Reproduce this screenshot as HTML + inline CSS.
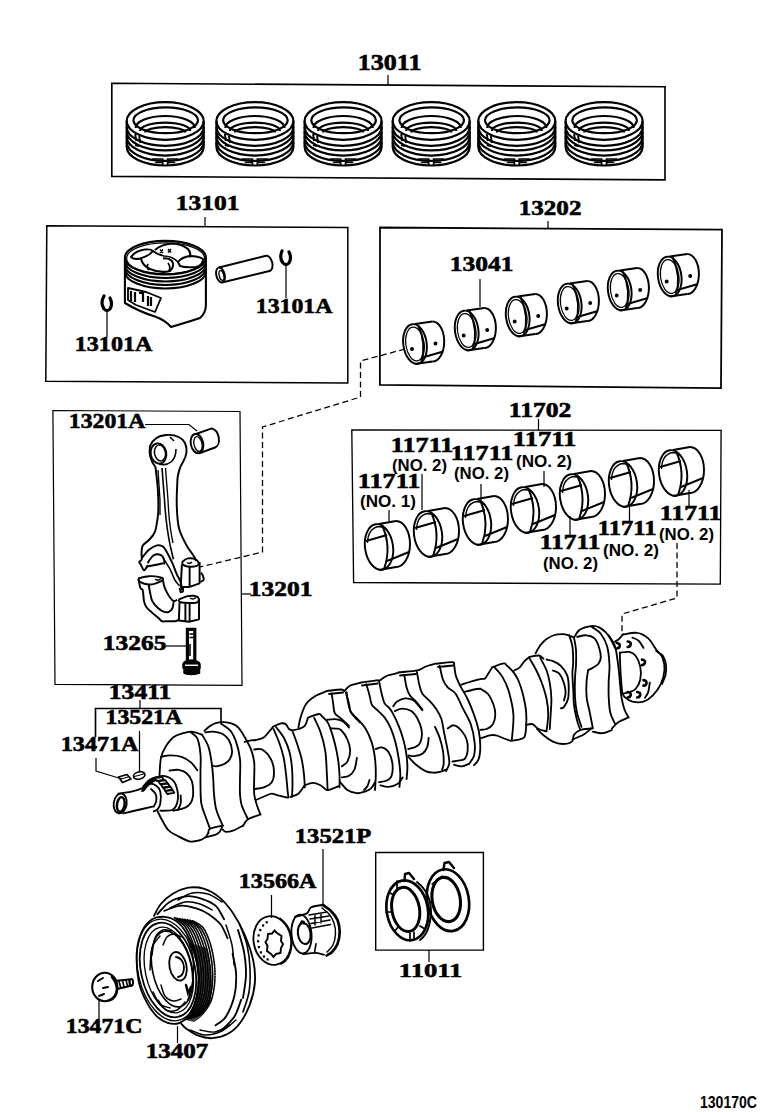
<!DOCTYPE html>
<html><head><meta charset="utf-8"><style>
html,body{margin:0;padding:0;background:#fff;}
svg{display:block;}
.L{font-family:"Liberation Serif",serif;font-weight:bold;fill:#000;stroke:#000;stroke-width:0.6px;}
.N{font-family:"Liberation Sans",sans-serif;font-weight:bold;font-size:16.5px;fill:#000;}
.C{font-family:"Liberation Sans",sans-serif;font-weight:bold;font-size:16px;fill:#000;}
</style></head><body>
<svg width="760" height="1112" viewBox="0 0 760 1112">
<rect width="760" height="1112" fill="#fff"/>
<g fill="none" stroke="#000" stroke-width="1.65" stroke-linejoin="miter">
<path d="M111.8,83.3 L665.0,86.8 L665.0,179.8 L111.8,176.4 Z" stroke-width="1.65"/>
<path d="M46.8,225.8 L347.8,227.4 L347.8,382.9 L45.8,381.3 Z" stroke-width="1.52"/>
<path d="M380.0,227.5 L722.0,229.7 L721.0,388.2 L379.9,384.9 Z" stroke-width="1.77"/>
<path d="M52.9,410.5 L240.0,411.5 L242.0,685.4 L55.0,684.4 Z" stroke-width="1.22"/>
<path d="M351.8,429.9 L721.1,430.4 L720.3,584.2 L353.6,582.5 Z" stroke-width="1.34"/>
<path d="M375.7,852.5 L483.4,852.5 L483.4,950.1 L375.7,950.1 Z" stroke-width="1.40"/>
<path d="M95.5,737 V708.5 H221 V722"/>
</g>
<g fill="none" stroke="#000" stroke-width="1.22">
<path d="M388,75 V85"/>
<path d="M205,217 V226.6"/>
<path d="M548,221 V228.6"/>
<path d="M480,279 V307"/>
<path d="M286,264 V298"/>
<path d="M107,309 V337"/>
<path d="M145,424.5 H189 L197,431"/>
<path d="M241.5,594 H251"/>
<path d="M166,646 H187"/>
<path d="M538.5,419 V430"/>
<path d="M389,510 V521"/>
<path d="M422,474 V510"/>
<path d="M481,484 V500"/>
<path d="M544,471 V487"/>
<path d="M570,516 V535"/>
<path d="M629.5,506 V521"/>
<path d="M689,490 V506"/>
<path d="M140,700 V708"/>
<path d="M139.5,731 V771"/>
<path d="M96,758 V771 L122,779"/>
<path d="M323,849 V905"/>
<path d="M271.5,895 V918"/>
<path d="M429,950 V962"/>
<path d="M99,1000 V1019"/>
<path d="M177.5,1026 V1043"/>
</g>
<g fill="none" stroke="#000" stroke-width="1.28" stroke-dasharray="6,3.5">
<path d="M405,349 L360.5,361 V397 L262.5,427 V552 L200,567"/>
<path d="M677,543 V598 L622,614 V636"/>
</g>
<g fill="none" stroke="#000" stroke-width="2.20">
<ellipse cx="165.2" cy="121.0" rx="38.5" ry="18.8" />
<ellipse cx="165.7" cy="120.3" rx="32.3" ry="12.9" />
<path d="M135.6,128 A29.6,12 0 0 1 194.8,128"/>
<path d="M140.2,131 A25,8.4 0 0 1 190.2,131"/>
<path d="M145.2,132.5 A20,5.3 0 0 1 185.2,132.5"/>
<path d="M126.7,121.0 V147.0"/>
<path d="M203.7,121.0 V147.0"/>
<path d="M126.7,127.0 A38.5,18.8 0 0 0 203.7,127.0"/>
<path d="M126.7,131.6 A38.5,18.8 0 0 0 203.7,131.6"/>
<path d="M126.7,136.8 A38.5,18.8 0 0 0 203.7,136.8"/>
<path d="M126.7,142.1 A38.5,18.8 0 0 0 203.7,142.1"/>
<path d="M126.7,146.7 A38.5,18.8 0 0 0 203.7,146.7"/>
<path d="M152.2,159 H162.7 V166 M178.2,159 H167.7 V166 M155.2,162.5 H162.7 M175.2,162.5 H167.7" stroke-width="1.71"/>
<path d="M135.2,134 l1,7 M139.2,136 l1,7 M135.2,145 l4,1" stroke-width="1.95"/>
<ellipse cx="254.9" cy="121.0" rx="38.5" ry="18.8" />
<ellipse cx="255.4" cy="120.3" rx="32.3" ry="12.9" />
<path d="M225.3,128 A29.6,12 0 0 1 284.5,128"/>
<path d="M229.9,131 A25,8.4 0 0 1 279.9,131"/>
<path d="M234.9,132.5 A20,5.3 0 0 1 274.9,132.5"/>
<path d="M216.4,121.0 V147.0"/>
<path d="M293.4,121.0 V147.0"/>
<path d="M216.4,127.0 A38.5,18.8 0 0 0 293.4,127.0"/>
<path d="M216.4,131.6 A38.5,18.8 0 0 0 293.4,131.6"/>
<path d="M216.4,136.8 A38.5,18.8 0 0 0 293.4,136.8"/>
<path d="M216.4,142.1 A38.5,18.8 0 0 0 293.4,142.1"/>
<path d="M216.4,146.7 A38.5,18.8 0 0 0 293.4,146.7"/>
<path d="M241.9,159 H252.4 V166 M267.9,159 H257.4 V166 M244.9,162.5 H252.4 M264.9,162.5 H257.4" stroke-width="1.71"/>
<path d="M224.9,134 l1,7 M228.9,136 l1,7 M224.9,145 l4,1" stroke-width="1.95"/>
<ellipse cx="343.1" cy="121.0" rx="38.5" ry="18.8" />
<ellipse cx="343.6" cy="120.3" rx="32.3" ry="12.9" />
<path d="M313.5,128 A29.6,12 0 0 1 372.7,128"/>
<path d="M318.1,131 A25,8.4 0 0 1 368.1,131"/>
<path d="M323.1,132.5 A20,5.3 0 0 1 363.1,132.5"/>
<path d="M304.6,121.0 V147.0"/>
<path d="M381.6,121.0 V147.0"/>
<path d="M304.6,127.0 A38.5,18.8 0 0 0 381.6,127.0"/>
<path d="M304.6,131.6 A38.5,18.8 0 0 0 381.6,131.6"/>
<path d="M304.6,136.8 A38.5,18.8 0 0 0 381.6,136.8"/>
<path d="M304.6,142.1 A38.5,18.8 0 0 0 381.6,142.1"/>
<path d="M304.6,146.7 A38.5,18.8 0 0 0 381.6,146.7"/>
<path d="M330.1,159 H340.6 V166 M356.1,159 H345.6 V166 M333.1,162.5 H340.6 M353.1,162.5 H345.6" stroke-width="1.71"/>
<path d="M313.1,134 l1,7 M317.1,136 l1,7 M313.1,145 l4,1" stroke-width="1.95"/>
<ellipse cx="431.2" cy="121.0" rx="38.5" ry="18.8" />
<ellipse cx="431.7" cy="120.3" rx="32.3" ry="12.9" />
<path d="M401.6,128 A29.6,12 0 0 1 460.8,128"/>
<path d="M406.2,131 A25,8.4 0 0 1 456.2,131"/>
<path d="M411.2,132.5 A20,5.3 0 0 1 451.2,132.5"/>
<path d="M392.7,121.0 V147.0"/>
<path d="M469.7,121.0 V147.0"/>
<path d="M392.7,127.0 A38.5,18.8 0 0 0 469.7,127.0"/>
<path d="M392.7,131.6 A38.5,18.8 0 0 0 469.7,131.6"/>
<path d="M392.7,136.8 A38.5,18.8 0 0 0 469.7,136.8"/>
<path d="M392.7,142.1 A38.5,18.8 0 0 0 469.7,142.1"/>
<path d="M392.7,146.7 A38.5,18.8 0 0 0 469.7,146.7"/>
<path d="M418.2,159 H428.7 V166 M444.2,159 H433.7 V166 M421.2,162.5 H428.7 M441.2,162.5 H433.7" stroke-width="1.71"/>
<path d="M401.2,134 l1,7 M405.2,136 l1,7 M401.2,145 l4,1" stroke-width="1.95"/>
<ellipse cx="516.8" cy="121.0" rx="38.5" ry="18.8" />
<ellipse cx="517.3" cy="120.3" rx="32.3" ry="12.9" />
<path d="M487.2,128 A29.6,12 0 0 1 546.4,128"/>
<path d="M491.8,131 A25,8.4 0 0 1 541.8,131"/>
<path d="M496.8,132.5 A20,5.3 0 0 1 536.8,132.5"/>
<path d="M478.3,121.0 V147.0"/>
<path d="M555.3,121.0 V147.0"/>
<path d="M478.3,127.0 A38.5,18.8 0 0 0 555.3,127.0"/>
<path d="M478.3,131.6 A38.5,18.8 0 0 0 555.3,131.6"/>
<path d="M478.3,136.8 A38.5,18.8 0 0 0 555.3,136.8"/>
<path d="M478.3,142.1 A38.5,18.8 0 0 0 555.3,142.1"/>
<path d="M478.3,146.7 A38.5,18.8 0 0 0 555.3,146.7"/>
<path d="M503.8,159 H514.3 V166 M529.8,159 H519.3 V166 M506.8,162.5 H514.3 M526.8,162.5 H519.3" stroke-width="1.71"/>
<path d="M486.8,134 l1,7 M490.8,136 l1,7 M486.8,145 l4,1" stroke-width="1.95"/>
<ellipse cx="604.1" cy="121.0" rx="38.5" ry="18.8" />
<ellipse cx="604.6" cy="120.3" rx="32.3" ry="12.9" />
<path d="M574.5,128 A29.6,12 0 0 1 633.7,128"/>
<path d="M579.1,131 A25,8.4 0 0 1 629.1,131"/>
<path d="M584.1,132.5 A20,5.3 0 0 1 624.1,132.5"/>
<path d="M565.6,121.0 V147.0"/>
<path d="M642.6,121.0 V147.0"/>
<path d="M565.6,127.0 A38.5,18.8 0 0 0 642.6,127.0"/>
<path d="M565.6,131.6 A38.5,18.8 0 0 0 642.6,131.6"/>
<path d="M565.6,136.8 A38.5,18.8 0 0 0 642.6,136.8"/>
<path d="M565.6,142.1 A38.5,18.8 0 0 0 642.6,142.1"/>
<path d="M565.6,146.7 A38.5,18.8 0 0 0 642.6,146.7"/>
<path d="M591.1,159 H601.6 V166 M617.1,159 H606.6 V166 M594.1,162.5 H601.6 M614.1,162.5 H606.6" stroke-width="1.71"/>
<path d="M574.1,134 l1,7 M578.1,136 l1,7 M574.1,145 l4,1" stroke-width="1.95"/>
</g>
<g fill="none" stroke="#000" stroke-width="1.95">
<ellipse cx="415.0" cy="344.0" rx="11.7" ry="20.0" transform="rotate(-8 415 344)"/><ellipse cx="415.0" cy="344.0" rx="9.2" ry="17.0" stroke-width="1.22" transform="rotate(-8 415 344)"/><path d="M432.5,321.5 A11.7,20 0 0 1 432.5,361.5"/><path d="M415.0,324.0 L432.5,321.5 M415.0,364.0 L432.5,361.5"/><path d="M418.0,325.0 Q427.0,344.0 421.0,363.0"/><path d="M421.0,358.0 L443.2,351.5"/><circle cx="412.0" cy="349.0" r="1.0" fill="#000"/><circle cx="435.5" cy="343.5" r="1.0" fill="#000"/>
<ellipse cx="466.7" cy="330.5" rx="11.7" ry="20.0" transform="rotate(-8 466.7 330.5)"/><ellipse cx="466.7" cy="330.5" rx="9.2" ry="17.0" stroke-width="1.22" transform="rotate(-8 466.7 330.5)"/><path d="M484.2,308.0 A11.7,20 0 0 1 484.2,348.0"/><path d="M466.7,310.5 L484.2,308.0 M466.7,350.5 L484.2,348.0"/><path d="M469.7,311.5 Q478.7,330.5 472.7,349.5"/><path d="M472.7,344.5 L494.9,338.0"/><circle cx="463.7" cy="335.5" r="1.0" fill="#000"/><circle cx="487.2" cy="330.0" r="1.0" fill="#000"/>
<ellipse cx="517.7" cy="316.5" rx="11.7" ry="20.0" transform="rotate(-8 517.7 316.5)"/><ellipse cx="517.7" cy="316.5" rx="9.2" ry="17.0" stroke-width="1.22" transform="rotate(-8 517.7 316.5)"/><path d="M535.2,294.0 A11.7,20 0 0 1 535.2,334.0"/><path d="M517.7,296.5 L535.2,294.0 M517.7,336.5 L535.2,334.0"/><path d="M520.7,297.5 Q529.7,316.5 523.7,335.5"/><path d="M523.7,330.5 L545.9,324.0"/><circle cx="514.7" cy="321.5" r="1.0" fill="#000"/><circle cx="538.2" cy="316.0" r="1.0" fill="#000"/>
<ellipse cx="569.7" cy="303.5" rx="11.7" ry="20.0" transform="rotate(-8 569.7 303.5)"/><ellipse cx="569.7" cy="303.5" rx="9.2" ry="17.0" stroke-width="1.22" transform="rotate(-8 569.7 303.5)"/><path d="M587.2,281.0 A11.7,20 0 0 1 587.2,321.0"/><path d="M569.7,283.5 L587.2,281.0 M569.7,323.5 L587.2,321.0"/><path d="M572.7,284.5 Q581.7,303.5 575.7,322.5"/><path d="M575.7,317.5 L597.9,311.0"/><circle cx="566.7" cy="308.5" r="1.0" fill="#000"/><circle cx="590.2" cy="303.0" r="1.0" fill="#000"/>
<ellipse cx="619.7" cy="290.5" rx="11.7" ry="20.0" transform="rotate(-8 619.7 290.5)"/><ellipse cx="619.7" cy="290.5" rx="9.2" ry="17.0" stroke-width="1.22" transform="rotate(-8 619.7 290.5)"/><path d="M637.2,268.0 A11.7,20 0 0 1 637.2,308.0"/><path d="M619.7,270.5 L637.2,268.0 M619.7,310.5 L637.2,308.0"/><path d="M622.7,271.5 Q631.7,290.5 625.7,309.5"/><path d="M625.7,304.5 L647.9,298.0"/><circle cx="616.7" cy="295.5" r="1.0" fill="#000"/><circle cx="640.2" cy="290.0" r="1.0" fill="#000"/>
<ellipse cx="669.7" cy="276.5" rx="11.7" ry="20.0" transform="rotate(-8 669.7 276.5)"/><ellipse cx="669.7" cy="276.5" rx="9.2" ry="17.0" stroke-width="1.22" transform="rotate(-8 669.7 276.5)"/><path d="M687.2,254.0 A11.7,20 0 0 1 687.2,294.0"/><path d="M669.7,256.5 L687.2,254.0 M669.7,296.5 L687.2,294.0"/><path d="M672.7,257.5 Q681.7,276.5 675.7,295.5"/><path d="M675.7,290.5 L697.9,284.0"/><circle cx="666.7" cy="281.5" r="1.0" fill="#000"/><circle cx="690.2" cy="276.0" r="1.0" fill="#000"/>
</g>
<g fill="none" stroke="#000" stroke-width="1.95">
<ellipse cx="379.0" cy="547.0" rx="14.0" ry="23.0" transform="rotate(-8 379 547)"/><path d="M367.5,543.0 Q368.0,528.0 379.0,526.5 Q385.0,527.0 387.0,530.0" stroke-width="1.34"/><path d="M396.0,521.0 A14,23 0 0 1 396.0,567.0"/><path d="M379.0,524.0 L396.0,521.0 M379.0,570.0 L396.0,567.0"/><path d="M382.0,525.0 Q392.0,547.0 384.0,569.0"/><path d="M366.0,541.0 L387.0,535.0"/><path d="M387.0,561.0 L409.0,552.0"/>
<ellipse cx="428.0" cy="534.0" rx="14.0" ry="23.0" transform="rotate(-8 428 534)"/><path d="M416.5,530.0 Q417.0,515.0 428.0,513.5 Q434.0,514.0 436.0,517.0" stroke-width="1.34"/><path d="M445.0,508.0 A14,23 0 0 1 445.0,554.0"/><path d="M428.0,511.0 L445.0,508.0 M428.0,557.0 L445.0,554.0"/><path d="M431.0,512.0 Q441.0,534.0 433.0,556.0"/><path d="M415.0,528.0 L436.0,522.0"/><path d="M436.0,548.0 L458.0,539.0"/>
<ellipse cx="477.0" cy="522.0" rx="14.0" ry="23.0" transform="rotate(-8 477 522)"/><path d="M465.5,518.0 Q466.0,503.0 477.0,501.5 Q483.0,502.0 485.0,505.0" stroke-width="1.34"/><path d="M494.0,496.0 A14,23 0 0 1 494.0,542.0"/><path d="M477.0,499.0 L494.0,496.0 M477.0,545.0 L494.0,542.0"/><path d="M480.0,500.0 Q490.0,522.0 482.0,544.0"/><path d="M464.0,516.0 L485.0,510.0"/><path d="M485.0,536.0 L507.0,527.0"/>
<ellipse cx="525.0" cy="510.0" rx="14.0" ry="23.0" transform="rotate(-8 525 510)"/><path d="M513.5,506.0 Q514.0,491.0 525.0,489.5 Q531.0,490.0 533.0,493.0" stroke-width="1.34"/><path d="M542.0,484.0 A14,23 0 0 1 542.0,530.0"/><path d="M525.0,487.0 L542.0,484.0 M525.0,533.0 L542.0,530.0"/><path d="M528.0,488.0 Q538.0,510.0 530.0,532.0"/><path d="M512.0,504.0 L533.0,498.0"/><path d="M533.0,524.0 L555.0,515.0"/>
<ellipse cx="574.0" cy="497.0" rx="14.0" ry="23.0" transform="rotate(-8 574 497)"/><path d="M562.5,493.0 Q563.0,478.0 574.0,476.5 Q580.0,477.0 582.0,480.0" stroke-width="1.34"/><path d="M591.0,471.0 A14,23 0 0 1 591.0,517.0"/><path d="M574.0,474.0 L591.0,471.0 M574.0,520.0 L591.0,517.0"/><path d="M577.0,475.0 Q587.0,497.0 579.0,519.0"/><path d="M561.0,491.0 L582.0,485.0"/><path d="M582.0,511.0 L604.0,502.0"/>
<ellipse cx="623.0" cy="484.0" rx="14.0" ry="23.0" transform="rotate(-8 623 484)"/><path d="M611.5,480.0 Q612.0,465.0 623.0,463.5 Q629.0,464.0 631.0,467.0" stroke-width="1.34"/><path d="M640.0,458.0 A14,23 0 0 1 640.0,504.0"/><path d="M623.0,461.0 L640.0,458.0 M623.0,507.0 L640.0,504.0"/><path d="M626.0,462.0 Q636.0,484.0 628.0,506.0"/><path d="M610.0,478.0 L631.0,472.0"/><path d="M631.0,498.0 L653.0,489.0"/>
<ellipse cx="673.0" cy="473.0" rx="14.0" ry="23.0" transform="rotate(-8 673 473)"/><path d="M661.5,469.0 Q662.0,454.0 673.0,452.5 Q679.0,453.0 681.0,456.0" stroke-width="1.34"/><path d="M690.0,447.0 A14,23 0 0 1 690.0,493.0"/><path d="M673.0,450.0 L690.0,447.0 M673.0,496.0 L690.0,493.0"/><path d="M676.0,451.0 Q686.0,473.0 678.0,495.0"/><path d="M660.0,467.0 L681.0,461.0"/><path d="M681.0,487.0 L703.0,478.0"/>
</g>
<g fill="none" stroke="#000" stroke-width="2.07" stroke-linejoin="round">
<ellipse cx="165.4" cy="257.7" rx="40.5" ry="16.8" />
<path d="M124.9,261.2 A40.5,16.8 0 0 0 205.9,261.2"/>
<path d="M124.9,264.7 A40.5,16.8 0 0 0 205.9,264.7"/>
<path d="M124.9,268.2 A40.5,16.8 0 0 0 205.9,268.2"/>
<path d="M124.9,271.7 A40.5,16.8 0 0 0 205.9,271.7"/>
<path d="M124.9,257.7 V303 Q140,312 155,316.5 Q165,320 171,327 Q188,322 200,318 Q205.8,313 205.9,305 V257.7"/>
<path d="M128,288 L146,292 L161,298 L155,312 L136,305 L128,300 Z" stroke-width="1.83"/>
<path d="M131,291 v10 M135,292 v10 M139,293 h4 v9 M148,296 v10 M151,297 v9" stroke-width="2.20"/>
<ellipse cx="165.6" cy="258.4" rx="39" ry="15.5" stroke-width="1.22"/>
<path d="M131,257 Q135,251 145,249.5 Q151,249 153,251 Q149,256 140,258.5 Q134,260 131,257 Z" stroke-width="1.95"/>
<path d="M141,259 Q143,266 150,269 Q160,273.5 170,271 Q175,266 172,261 Q168,257.5 163,258.5" stroke-width="2.07"/>
<path d="M148,264 Q146,268 149,270 M168,263 Q171,267 169,271" stroke-width="1.71"/>
<path d="M155,250 Q161,244.5 172,243.5 Q182,244 188,249 Q192,254 189,257" stroke-width="2.07"/>
<path d="M160,253 l3,-3.5 M163,253 l-3,-3.5 M168,252.5 l3,-3.5 M171,252.5 l-3,-3.5" stroke-width="1.46"/>
<path d="M178,262 Q182,257 190,256 Q198,256 203,259 Q203,265 196,267 Q186,268 180,266 Z" stroke-width="1.95"/>
<path d="M153,251 Q158,255 164,256 Q172,256 178,262" stroke-width="1.71"/>
</g>
<g fill="none" stroke="#000" stroke-width="1.95">
<path d="M219,267.5 L266,255.7 A4.5,7.8 -14 0 1 269.5,271 L222,282.5"/>
<ellipse cx="220.5" cy="275" rx="4.2" ry="7.6" transform="rotate(-14 220.5 275)"/>
<ellipse cx="221.5" cy="275.5" rx="2.2" ry="5" transform="rotate(-14 221.5 275.5)" stroke-width="1.34"/>
</g>
<g fill="none" stroke="#000" stroke-width="3.17" stroke-linecap="round">
<path d="M104,296 Q100,303 104,309 Q107,312 110,309 Q113,304 110,298"/>
<path d="M282,251 Q279,258 283,263 Q286,266 289,263 Q292,258 289,252"/>
</g>
<g fill="none" stroke="#000" stroke-width="1.95" stroke-linejoin="round">
<path d="M155.5,467 Q148,458 150,446 Q154,436 166,435 Q180,434 185,443 Q189,452 183,462 Q179,468 177.5,478"/>
<ellipse cx="158.5" cy="453.5" rx="7.8" ry="10.2" transform="rotate(-10 158.5 453.5)"/>
<ellipse cx="160" cy="453" rx="5.5" ry="8" transform="rotate(-10 160 453)" stroke-width="1.46"/>
<path d="M159,464 Q166,466 171,462 Q176,458 176,449" stroke-width="1.59"/>
<path d="M170,437 l4,4" stroke-width="1.59"/>
<path d="M155.5,467.0 C155.8,470.0 157.0,479.5 157.5,485.0 C158.0,490.5 158.2,495.0 158.3,500.0 C158.4,505.0 158.6,509.7 158.0,515.0 C157.4,520.3 156.5,527.4 155.0,531.6 C153.5,535.8 151.0,537.7 149.0,540.0 C147.0,542.3 144.0,543.4 142.8,545.4 C141.6,547.4 141.8,549.6 141.6,552.0 C141.4,554.4 142.0,557.9 141.6,559.6 C141.2,561.3 139.3,561.1 139.2,562.0 C139.1,562.9 140.2,563.6 141.0,565.0 C141.8,566.4 143.0,570.0 144.0,570.3 C145.0,570.6 146.1,567.5 146.9,566.7 C147.7,565.9 148.4,565.7 148.7,565.5"/>
<path d="M146.3,566.7 C147.8,566.4 152.2,565.6 155.0,565.0 C157.8,564.4 161.6,563.5 162.9,563.2"/>
<path d="M141.6,558.4 C142.8,557.0 146.1,552.3 148.7,550.1 C151.3,547.9 154.6,546.0 157.0,545.4 C159.4,544.8 161.1,545.2 162.9,546.6 C164.7,548.0 166.1,550.9 167.7,553.7 C169.3,556.5 170.8,559.7 172.4,563.2 C174.0,566.8 175.7,571.9 177.1,575.0 C178.5,578.1 179.9,579.5 180.7,582.1 C181.5,584.7 181.7,589.0 181.9,590.4"/>
<path d="M147.5,563.2 C148.5,561.9 151.2,556.9 153.4,555.5 C155.6,554.1 158.7,554.2 160.5,554.9 C162.3,555.6 163.5,558.0 164.1,559.6 C164.7,561.2 164.1,563.6 164.1,564.4"/>
<path d="M164.1,559.6 C165.1,561.2 168.2,565.7 170.0,569.1 C171.8,572.5 173.2,577.0 174.8,579.8 C176.4,582.6 178.7,584.7 179.5,585.7" stroke-width="1.59"/>
<path d="M177.5,478.0 C177.4,481.7 176.7,493.3 176.7,500.0 C176.7,506.7 177.0,513.0 177.5,518.0 C178.0,523.0 178.0,525.4 179.5,530.0 C181.0,534.6 184.2,541.1 186.6,545.4 C189.0,549.7 192.1,553.4 193.7,556.0 C195.3,558.6 195.7,560.0 196.1,560.8"/>
<path d="M162,468 L164.5,500 Q166,525 170,544.7 L173.4,559.2" stroke-width="1.59"/>
<path d="M165.5,468 L168,500 Q169,525 173,543" stroke-width="1.34"/>
<path d="M158,470 L160,500 L160,515" stroke-width="1.34"/>
<path d="M181.9,562.0 C182.9,561.4 185.4,558.8 187.8,558.4 C190.2,558.0 194.3,558.6 196.1,559.6 C197.9,560.6 199.1,563.2 198.5,564.4 C197.9,565.6 194.9,566.5 192.5,566.7 C190.1,566.9 186.0,566.3 184.2,565.5 C182.4,564.7 182.3,562.6 181.9,562.0"/>
<path d="M181.9,564.4 L180.7,586.9 L189.6,586.9 L199.6,583.3 L199.6,562 M189.6,566.7 V586.9"/>
<path d="M179.5,588 L180.7,592.2 L183,591.6 L183,587.5"/>
<path d="M200.8,572.7 Q204,576 203.8,580 L200.5,582" stroke-width="1.71"/>
<path d="M187,562.5 q2.5,2 5,-0.5" stroke-width="1.46"/>
</g>
<g fill="none" stroke="#000" stroke-width="1.95" stroke-linejoin="round">
<path d="M138.0,578.6 C139.8,578.2 144.9,576.4 148.7,576.2 C152.4,576.0 158.1,576.8 160.5,577.4 C162.9,578.0 163.7,578.8 162.9,579.8 C162.1,580.8 158.2,582.5 155.8,583.3 C153.4,584.1 151.3,584.7 148.7,584.5 C146.1,584.3 142.2,583.1 140.4,582.1 C138.6,581.1 138.4,579.2 138.0,578.6"/>
<path d="M138.6,579.8 C138.9,581.2 139.7,586.2 140.4,588.0 C141.1,589.8 142.2,588.2 142.8,590.4 C143.4,592.6 143.4,598.3 144.0,601.1 C144.6,603.9 144.9,605.0 146.3,607.0 C147.7,609.0 150.3,611.1 152.3,612.9 C154.3,614.7 156.6,616.3 158.2,617.7 C159.8,619.1 160.3,620.6 161.7,621.2 C163.1,621.8 164.3,621.2 166.5,621.2 C168.7,621.2 172.8,621.4 174.8,621.2 C176.8,621.0 177.7,620.2 178.3,620.0"/>
<path d="M148.7,584.5 C148.9,585.7 149.3,588.8 149.9,591.6 C150.5,594.4 150.9,598.3 152.3,601.1 C153.7,603.9 156.2,606.4 158.2,608.2 C160.2,610.0 162.3,611.2 164.1,611.8 C165.9,612.4 167.4,612.4 168.8,611.8 C170.2,611.2 171.6,609.8 172.4,608.2 C173.2,606.6 173.4,603.3 173.6,602.3"/>
<path d="M162.9,579.8 C163.1,580.8 163.5,583.7 164.1,585.7 C164.7,587.7 165.5,589.6 166.5,591.6 C167.5,593.6 168.8,595.9 170.0,597.5 C171.2,599.1 172.4,600.7 173.6,601.1 C174.8,601.5 176.5,600.1 177.1,599.9"/>
<path d="M178.3,599.9 C179.7,599.3 184.0,597.1 186.6,596.4 C189.2,595.7 191.7,595.5 193.7,595.8 C195.7,596.1 197.9,597.0 198.5,598.1 C199.1,599.2 198.9,601.5 197.3,602.3 C195.7,603.1 191.8,602.9 189.0,602.9 C186.2,602.9 182.5,602.8 180.7,602.3 C178.9,601.8 178.7,600.3 178.3,599.9"/>
<path d="M179.5,602.3 L178.9,620.5 L189,621.8 L199,619.4 L199,598.7 M185.4,603.5 V621.2 M189.6,603.5 V621.2"/>
<path d="M155,579 q3,2.5 6,-0.5 M190,598 q3,2 6,-0.5" stroke-width="1.46"/>
</g>
<g fill="none" stroke="#000" stroke-width="3.17">
<path d="M187.4,629.4 H194.8 V661 H187.4 Z"/>
<path d="M189.5,634 h4 M189.5,637.5 h4 M190,644 v12" stroke-width="1.59"/>
<path d="M183,664 Q184,660.5 191,660.5 Q199,660.5 200,664 V668 L183,668 Z" fill="#000" stroke-width="1.46"/>
<path d="M184,667 H199.5 V673 Q195,674.5 191,674.5 Q186,674.5 184,673 Z" fill="#000" stroke-width="1.46"/>
<path d="M185,665.3 h13" stroke="#fff" stroke-width="1.46"/>
</g>
<g fill="none" stroke="#000" stroke-width="1.95">
<path d="M196,434 L211.6,428.4 A7,10 -15 0 1 215,447.5 L200,453"/>
<ellipse cx="197" cy="443.6" rx="6.2" ry="9.8" transform="rotate(-12 197 443.6)"/>
<ellipse cx="198" cy="444" rx="4" ry="7.5" transform="rotate(-12 198 444)" stroke-width="1.34"/>
</g>
<g fill="none" stroke="#000" stroke-width="1.83" stroke-linecap="round" stroke-linejoin="round">
<path d="M118.2,793.6 C120.4,793.3 127.4,792.5 131.3,791.6 C135.2,790.7 139.6,789.3 141.8,788.3 C144.0,787.3 144.1,786.1 144.5,785.7"/>
<path d="M123.4,813.3 C125.8,812.8 133.1,811.1 137.9,810.0 C142.7,808.9 150.0,807.2 152.4,806.7"/>
<path d="M151.0,789.0 C151.8,789.9 154.8,792.2 155.7,794.2 C156.6,796.2 156.6,798.7 156.3,800.8 C156.0,802.9 154.1,805.7 153.7,806.7"/>
<path d="M143.2,786.3 C144.3,785.9 147.5,783.8 149.7,783.7 C151.9,783.6 154.5,784.4 156.3,785.7 C158.1,787.0 159.6,788.7 160.3,791.6 C161.0,794.5 160.8,800.5 160.3,803.4 C159.9,806.3 158.7,808.0 157.6,809.3 C156.5,810.6 154.3,811.0 153.7,811.3"/>
<path d="M144.5,785.0 C145.4,784.1 147.7,781.0 149.7,779.7 C151.7,778.4 154.1,777.8 156.3,777.1 C158.5,776.5 160.7,775.7 162.9,775.8 C165.1,775.9 167.5,776.7 169.5,777.8 C171.5,778.9 173.4,780.3 174.7,782.4 C176.0,784.5 176.8,787.7 177.4,790.3 C178.0,792.9 178.2,795.6 178.0,798.2 C177.8,800.8 177.0,804.0 176.0,806.0 C175.0,808.0 173.8,809.2 172.1,810.0 C170.3,810.8 167.5,810.6 165.5,810.7 C163.5,810.8 161.2,810.7 160.3,810.7"/>
<path d="M169.5,770.5 C171.0,770.4 175.8,769.4 178.7,769.9 C181.5,770.4 184.4,771.4 186.6,773.2 C188.8,775.1 190.7,777.7 191.8,781.0 C192.9,784.3 193.2,789.6 193.2,792.9 C193.2,796.2 192.7,798.6 191.8,800.8 C190.9,803.0 189.4,804.7 187.9,806.0 C186.4,807.3 185.0,807.9 182.6,808.7 C180.2,809.5 174.9,810.4 173.4,810.7"/>
<path d="M180.7,795.5 C180.7,796.8 181.1,801.0 180.7,803.4 C180.2,805.8 178.4,808.9 178.0,810.0"/>
<path d="M159.5,775.0 C159.8,772.1 159.9,762.3 161.0,757.6 C162.1,752.9 163.7,750.0 165.8,746.6 C167.9,743.2 170.8,739.3 173.7,737.1 C176.6,734.9 180.3,734.1 183.2,733.2 C186.1,732.3 188.6,731.6 191.0,731.6 C193.4,731.6 195.6,732.7 197.4,733.2 C199.2,733.7 201.3,734.5 202.1,734.7"/>
<path d="M191.0,732.4 C192.1,733.5 195.8,735.0 197.4,738.7 C199.0,742.4 200.0,749.2 200.5,754.5 C201.0,759.8 200.5,765.0 200.5,770.3 C200.5,775.5 200.4,780.5 200.5,786.0 C200.6,791.5 200.5,798.4 201.3,803.4 C202.1,808.4 203.9,811.8 205.3,816.0 C206.8,820.2 209.2,826.6 210.0,828.7"/>
<path d="M202.1,734.7 C203.2,736.7 206.8,742.0 208.4,746.6 C210.0,751.2 210.8,757.1 211.6,762.4 C212.4,767.7 212.8,772.9 213.2,778.2 C213.6,783.5 213.5,788.7 214.0,794.0 C214.5,799.3 214.9,804.5 216.3,809.8 C217.8,815.1 221.6,823.0 222.7,825.6"/>
<path d="M157.6,811.3 C158.3,812.6 159.8,816.1 161.6,819.2 C163.4,822.3 165.7,827.3 168.2,830.0 C170.7,832.7 173.2,833.6 176.8,835.5 C180.4,837.4 185.8,840.5 189.5,841.3 C193.2,842.1 196.4,841.1 199.0,840.5 C201.6,839.9 203.7,838.7 205.3,837.4 C206.9,836.1 207.9,833.5 208.4,832.7"/>
<path d="M208.4,832.7 C208.7,832.0 207.6,829.9 210.0,828.7 C212.4,827.5 220.6,826.1 222.7,825.6"/>
<path d="M205.3,837.4 C207.4,836.8 215.1,835.5 218.0,833.5 C220.9,831.5 221.9,826.9 222.7,825.6"/>
<path d="M161.0,756.8 C162.6,756.5 167.1,755.3 170.5,755.3 C173.9,755.3 178.2,755.6 181.6,756.8 C185.0,758.0 188.4,760.1 191.0,762.4 C193.6,764.6 196.3,769.0 197.4,770.3"/>
<path d="M204.5,730.8 C205.4,730.0 208.0,727.3 210.0,726.0 C212.0,724.7 213.9,723.5 216.3,722.9 C218.7,722.2 221.6,722.0 224.2,722.1 C226.8,722.2 229.7,722.8 232.1,723.7 C234.5,724.6 236.3,725.4 238.4,727.6 C240.5,729.8 242.6,733.4 244.7,737.1 C246.8,740.8 249.5,745.5 251.1,749.7 C252.7,753.9 253.7,757.6 254.2,762.4 C254.7,767.1 254.2,772.9 254.2,778.2 C254.2,783.5 253.7,789.3 254.2,794.0 C254.7,798.7 256.3,803.2 257.4,806.6 C258.4,810.0 260.0,813.2 260.5,814.5"/>
<path d="M260.5,814.5 C258.4,815.3 250.9,817.4 248.0,819.3 C245.1,821.1 244.0,824.5 243.2,825.6"/>
<path d="M243.2,825.6 C241.6,826.4 236.6,829.2 233.7,830.3 C230.8,831.3 227.6,832.0 225.8,831.9 C224.0,831.8 223.2,829.9 222.7,829.5"/>
<path d="M221.1,723.7 C222.7,724.9 228.0,727.8 230.5,730.8 C233.0,733.8 234.5,737.2 236.1,741.9 C237.7,746.6 239.3,753.2 240.0,759.2 C240.7,765.2 240.0,772.4 240.0,778.2 C240.0,784.0 239.7,789.5 240.0,794.0 C240.3,798.5 240.5,801.3 241.6,805.0 C242.7,808.7 245.3,813.6 246.4,816.0 C247.5,818.4 247.7,818.8 248.0,819.3"/>
<path d="M205.3,732.4 C206.6,732.3 210.3,731.3 213.2,731.6 C216.1,731.9 220.1,732.5 222.7,734.0 C225.3,735.5 227.4,737.4 229.0,740.3 C230.6,743.2 232.0,748.1 232.1,751.3 C232.2,754.4 231.1,757.1 229.8,759.2 C228.5,761.3 226.4,762.8 224.2,764.0 C221.9,765.2 218.3,766.0 216.3,766.3 C214.3,766.5 213.1,765.6 212.4,765.5"/>
<path d="M244.7,741.9 C245.8,741.6 249.2,740.6 251.1,740.3 C252.9,740.0 253.7,740.5 255.8,740.0 C257.9,739.5 261.3,739.2 263.7,737.6 C266.1,736.0 268.4,732.3 270.0,730.5 C271.6,728.7 272.7,727.2 273.2,726.6"/>
<path d="M254.2,749.5 C255.5,749.5 259.3,747.9 262.1,749.5 C264.9,751.1 268.8,755.3 270.8,759.0 C272.8,762.7 273.9,767.7 274.0,771.6 C274.1,775.5 273.3,780.0 271.6,782.6 C269.9,785.2 266.6,786.3 263.7,787.4 C260.8,788.5 255.8,788.7 254.2,789.0"/>
<path d="M255.8,800.0 C257.4,799.3 262.7,797.0 265.3,796.0 C267.9,795.0 269.5,793.8 271.6,793.7 C273.7,793.6 275.3,794.6 277.9,795.3 C280.5,795.9 285.8,797.2 287.4,797.6"/>
<path d="M273.2,726.6 C274.5,726.1 278.9,723.8 281.0,723.4 C283.1,723.0 284.5,723.3 285.8,724.2 C287.1,725.1 287.9,728.0 289.0,729.0 C290.1,730.0 291.6,730.2 292.1,730.5"/>
<path d="M276.0,727.0 C277.3,728.8 281.8,733.8 284.0,738.0 C286.2,742.2 288.2,747.0 289.5,752.0 C290.8,757.0 291.5,762.5 292.0,768.0 C292.5,773.5 292.5,780.2 292.5,785.0 C292.5,789.8 292.1,795.0 292.0,797.0"/>
<path d="M273.5,729.0 C274.4,731.2 277.3,737.3 279.0,742.0 C280.7,746.7 282.3,751.7 283.5,757.0 C284.7,762.3 285.3,768.5 286.0,774.0 C286.7,779.5 287.1,786.1 287.5,790.0 C287.9,793.9 288.3,796.3 288.5,797.6"/>
<path d="M292.1,730.5 C293.2,730.2 296.3,729.8 298.4,729.0 C300.5,728.2 303.2,727.6 304.8,725.8 C306.4,723.9 307.4,719.2 307.9,717.9"/>
<path d="M290.5,796.9 C291.8,796.4 296.0,795.7 298.4,793.7 C300.8,791.7 303.7,786.5 304.8,785.0"/>
<path d="M292.9,732.1 C293.6,734.0 295.4,738.7 296.9,743.2 C298.3,747.7 300.4,753.8 301.6,759.0 C302.8,764.2 303.5,770.0 304.0,774.7 C304.5,779.4 304.7,785.3 304.8,787.4"/>
<path d="M307.9,717.9 C308.2,717.8 307.6,717.8 309.5,717.1 C311.4,716.5 316.9,714.1 319.0,714.0 C321.1,713.9 320.8,715.1 322.1,716.3 C323.4,717.5 326.1,720.2 326.9,721.0"/>
<path d="M326.9,721.0 C327.4,722.1 328.7,723.7 330.0,727.4 C331.3,731.1 333.5,737.9 334.8,743.2 C336.1,748.5 337.2,753.8 338.0,759.0 C338.8,764.2 339.2,770.0 339.5,774.7 C339.8,779.4 339.5,785.3 339.5,787.4"/>
<path d="M314.2,717.9 C315.2,720.3 318.6,726.6 320.5,732.1 C322.4,737.6 324.2,744.0 325.3,751.1 C326.4,758.2 326.5,768.2 326.9,774.7 C327.3,781.2 327.5,787.5 327.6,790.0"/>
<path d="M304.7,785.3 C306.0,784.9 310.0,782.9 312.6,782.9 C315.2,782.9 318.1,784.1 320.5,785.3 C322.9,786.5 324.7,789.5 326.8,790.0 C328.9,790.5 331.2,789.0 333.2,788.4 C335.2,787.8 337.8,786.5 338.7,786.1"/>
<path d="M298.4,727.4 C298.8,725.5 299.7,720.0 301.0,716.0 C302.3,712.0 303.8,707.1 306.3,703.7 C308.8,700.3 312.4,697.9 315.8,695.8 C319.2,693.7 325.0,691.8 326.9,691.0"/>
<path d="M326.9,691.0 C329.3,690.8 338.2,689.5 341.1,689.5 C344.0,689.5 343.8,690.8 344.3,691.0"/>
<path d="M329.0,694.0 L343.0,692.5"/>
<path d="M331.6,693.4 C331.9,695.1 332.7,700.4 333.2,703.7 C333.7,707.0 333.5,710.7 334.8,713.2 C336.1,715.7 338.7,716.6 341.1,718.7 C343.5,720.8 347.7,724.6 349.0,725.8"/>
<path d="M345.8,692.6 C346.3,694.5 348.2,700.5 349.0,703.7 C349.8,706.9 349.2,709.0 350.5,711.6 C351.8,714.2 355.3,717.7 356.9,719.5 C358.5,721.3 359.5,722.1 360.0,722.6"/>
<path d="M327.6,719.7 C328.8,719.6 332.8,719.1 335.0,719.2 C337.2,719.3 339.2,719.7 341.0,720.5 C342.8,721.3 344.7,722.8 346.0,724.0 C347.3,725.2 348.5,727.0 349.0,727.6"/>
<path d="M330.8,728.4 C331.7,728.4 334.3,728.3 336.0,728.6 C337.7,728.9 339.1,728.2 341.0,730.0 C342.9,731.8 345.9,736.1 347.4,739.5 C348.9,742.9 350.2,746.8 350.2,750.5 C350.2,754.2 348.8,759.0 347.4,761.6 C346.0,764.2 342.8,765.5 341.9,766.3"/>
<path d="M369.5,780.0 C369.2,781.0 368.4,784.3 367.5,786.0 C366.6,787.7 364.6,789.3 364.0,790.0"/>
<path d="M356.9,758.0 C356.5,759.9 355.8,766.5 354.5,769.5 C353.2,772.5 351.1,774.5 349.0,775.8 C346.9,777.1 343.1,777.1 341.9,777.4"/>
<path d="M340.3,782.1 C341.5,783.4 344.6,788.1 347.4,790.0 C350.2,791.9 354.0,792.9 356.9,793.2 C359.8,793.5 362.3,792.4 364.7,791.6 C367.1,790.8 369.4,790.0 371.1,788.4 C372.8,786.8 374.4,783.1 375.0,782.1"/>
<path d="M344.3,691.0 C345.2,690.1 347.5,687.1 349.7,685.8 C351.9,684.5 355.8,683.9 357.6,683.4 C359.5,682.9 360.3,682.7 360.8,682.6"/>
<path d="M360.8,682.6 C363.4,682.2 373.6,680.6 376.6,680.3 C379.6,680.0 378.6,680.9 379.0,681.0"/>
<path d="M362.0,685.5 L377.5,683.5"/>
<path d="M379.0,681.0 C379.5,680.6 380.7,679.6 382.1,678.7 C383.5,677.8 385.1,676.4 387.6,675.5 C390.1,674.6 395.2,673.7 397.1,673.2 C399.0,672.7 398.4,672.5 398.7,672.4"/>
<path d="M398.7,672.4 C401.3,672.1 411.1,671.2 414.5,670.8 C417.9,670.4 418.4,670.1 419.2,670.0"/>
<path d="M400.0,675.5 L416.0,674.0"/>
<path d="M419.2,670.0 C420.5,669.3 424.5,667.0 427.1,666.0 C429.7,665.0 433.4,664.1 435.0,663.7 C436.6,663.3 436.3,663.7 436.6,663.7"/>
<path d="M436.6,663.7 C439.2,663.4 449.5,662.1 452.4,662.1 C455.3,662.1 453.7,663.4 454.0,663.7"/>
<path d="M438.0,667.0 L453.0,665.5"/>
<path d="M454.0,663.7 C454.3,665.5 454.9,671.7 455.6,674.7 C456.3,677.7 457.2,679.4 458.2,681.6 C459.1,683.8 459.7,685.0 461.3,687.9 C462.9,690.8 465.5,694.5 467.6,699.0 C469.7,703.5 472.1,709.5 474.0,714.8 C475.9,720.0 477.6,725.2 478.7,730.5 C479.8,735.8 480.3,741.5 480.3,746.3 C480.3,751.0 479.8,755.8 478.7,759.0 C477.6,762.2 474.8,764.2 474.0,765.3"/>
<path d="M346.6,692.1 C346.9,694.0 347.4,699.8 348.2,703.2 C349.0,706.6 349.7,710.0 351.3,712.6 C352.9,715.2 355.2,716.4 357.6,719.0 C360.0,721.6 363.1,724.5 365.5,728.4 C367.9,732.3 370.2,737.6 371.8,742.6 C373.4,747.6 374.3,753.2 375.0,758.5 C375.7,763.8 375.8,769.0 375.8,774.3 C375.8,779.5 375.1,787.4 375.0,790.0"/>
<path d="M366.3,684.2 C366.8,686.1 368.6,691.9 369.5,695.3 C370.4,698.7 370.6,702.3 371.8,704.7 C373.0,707.1 374.5,707.4 376.6,709.5 C378.7,711.6 382.1,714.2 384.5,717.4 C386.9,720.5 389.0,724.2 390.8,728.4 C392.6,732.6 394.2,737.6 395.5,742.6 C396.8,747.6 397.9,753.2 398.7,758.5 C399.5,763.8 400.2,769.6 400.3,774.3 C400.4,779.0 399.6,784.8 399.5,786.9"/>
<path d="M379.0,681.0 C379.4,682.9 380.4,688.4 381.3,692.1 C382.2,695.8 383.2,700.6 384.5,703.2 C385.8,705.8 387.9,706.3 389.2,707.9 C390.5,709.5 391.1,710.2 392.4,712.6 C393.7,715.0 395.5,718.4 397.1,722.1 C398.7,725.8 400.4,730.0 401.9,734.8 C403.3,739.5 404.9,745.3 405.8,750.6 C406.7,755.9 407.3,761.7 407.4,766.4 C407.5,771.1 406.7,776.9 406.6,779.0"/>
<path d="M404.2,674.7 C404.6,676.8 405.7,684.0 406.6,687.4 C407.5,690.8 408.2,692.9 409.8,695.3 C411.4,697.7 414.0,699.2 416.1,701.6 C418.2,704.0 421.3,708.2 422.4,709.5"/>
<path d="M416.9,671.6 C417.3,673.7 418.3,680.5 419.2,684.2 C420.1,687.9 420.5,690.8 422.4,693.7 C424.2,696.6 427.9,699.0 430.3,701.6 C432.7,704.2 434.8,706.6 436.6,709.5 C438.5,712.4 440.1,714.8 441.4,719.0 C442.7,723.2 443.4,729.5 444.5,734.8 C445.6,740.1 446.9,745.9 447.7,750.6 C448.5,755.3 449.6,759.8 449.3,763.2 C449.0,766.6 446.6,769.8 446.1,771.1"/>
<path d="M439.7,666.0 C440.2,668.2 441.6,675.9 442.9,679.5 C444.2,683.1 445.6,685.0 447.7,687.4 C449.8,689.8 453.1,690.2 455.6,693.7 C458.1,697.2 460.4,703.3 462.9,708.4 C465.4,713.5 468.8,718.4 470.8,724.2 C472.8,730.0 474.2,737.9 474.7,743.2 C475.2,748.5 474.9,752.4 474.0,755.8 C473.1,759.2 470.0,762.4 469.2,763.7"/>
<path d="M393.2,706.3 C393.9,705.5 395.1,702.9 397.1,701.6 C399.1,700.3 402.4,698.7 405.0,698.4 C407.6,698.1 410.5,698.7 412.9,700.0 C415.3,701.3 417.6,704.6 419.2,706.3 C420.8,708.0 421.9,709.6 422.4,710.3"/>
<path d="M394.8,711.1 C396.0,710.7 399.1,708.7 401.9,708.7 C404.6,708.7 408.7,709.4 411.3,711.1 C413.9,712.8 416.0,715.9 417.7,719.0 C419.4,722.1 421.0,726.9 421.6,730.0 C422.2,733.1 422.0,735.5 421.6,737.9 C421.2,740.3 420.4,742.7 419.2,744.3 C418.0,745.9 416.3,746.6 414.5,747.4 C412.7,748.2 409.2,748.7 408.2,749.0"/>
<path d="M428.7,737.9 C428.4,739.5 428.2,744.8 427.1,747.4 C426.1,750.0 424.5,752.2 422.4,753.7 C420.3,755.2 416.9,755.8 414.5,756.1 C412.1,756.4 409.2,755.4 408.2,755.3"/>
<path d="M408.2,756.9 C409.5,758.2 413.2,762.4 416.1,764.8 C419.0,767.2 422.6,769.8 425.5,771.1 C428.4,772.4 431.1,772.6 433.5,772.7 C435.9,772.8 437.6,772.4 439.7,771.9 C441.8,771.4 445.0,769.9 446.1,769.5"/>
<path d="M435.0,726.9 C435.8,728.7 438.4,733.9 439.7,737.9 C441.0,741.9 442.2,746.4 442.9,750.6 C443.6,754.8 443.8,760.1 443.7,763.2 C443.6,766.4 442.4,768.5 442.1,769.5"/>
<path d="M375.8,749.0 C376.9,748.7 380.0,746.9 382.1,747.4 C384.2,747.9 386.8,749.5 388.5,752.1 C390.2,754.7 391.9,759.2 392.4,763.2 C392.9,767.2 392.5,772.9 391.6,775.8 C390.7,778.7 389.0,779.5 386.9,780.5 C384.8,781.5 380.3,781.8 379.0,782.1"/>
<path d="M380.5,785.3 C381.8,785.6 385.6,787.2 388.5,786.9 C391.4,786.6 395.5,785.3 397.9,783.7 C400.3,782.1 401.9,778.5 402.7,777.4"/>
<path d="M447.7,728.4 C448.8,727.9 451.7,724.9 454.0,725.3 C456.3,725.6 459.2,728.0 461.3,730.5 C463.4,733.0 465.8,736.6 466.8,740.0 C467.9,743.4 468.0,747.9 467.6,751.1 C467.2,754.3 466.1,757.4 464.5,759.0 C462.9,760.6 460.2,760.2 458.2,760.6 C456.2,761.0 453.4,761.4 452.4,761.6"/>
<path d="M454.0,764.8 C455.3,765.1 459.4,766.6 461.9,766.4 C464.4,766.2 468.0,764.2 469.2,763.7"/>
<path d="M461.3,684.7 C462.9,684.2 467.6,682.5 470.8,681.6 C474.0,680.7 477.9,679.7 480.3,679.2 C482.7,678.7 483.7,679.3 485.0,678.4 C486.3,677.5 487.0,675.5 488.2,673.7 C489.4,671.9 491.5,668.5 492.1,667.4"/>
<path d="M464.5,691.9 C466.1,691.5 471.4,690.0 474.0,689.5 C476.6,689.0 479.2,688.8 480.3,688.7"/>
<path d="M480.3,688.7 C481.6,689.6 486.0,691.4 488.2,694.2 C490.4,697.0 492.5,701.9 493.7,705.3 C494.9,708.7 495.4,711.6 495.3,714.8 C495.2,717.9 494.3,721.8 492.9,724.2 C491.4,726.6 488.7,728.1 486.6,729.0 C484.5,729.9 481.4,729.7 480.3,729.8"/>
<path d="M480.3,738.5 C481.9,738.0 487.1,735.8 489.7,735.3 C492.3,734.8 493.7,734.8 496.1,735.3 C498.5,735.8 501.6,737.6 504.0,738.5 C506.4,739.4 509.2,740.4 510.3,740.8"/>
<path d="M492.1,667.4 C492.8,667.1 494.1,666.5 496.1,665.8 C498.1,665.1 502.2,663.4 504.0,663.4 C505.8,663.4 505.5,664.3 507.1,665.8 C508.7,667.2 512.4,671.0 513.4,672.1"/>
<path d="M494.5,667.4 C495.8,669.0 500.0,672.9 502.4,676.9 C504.8,680.9 506.9,684.8 508.7,691.1 C510.5,697.4 512.9,706.6 513.4,714.8 C513.9,722.9 512.1,735.8 511.8,740.0"/>
<path d="M513.4,672.1 C514.2,673.4 516.6,676.3 518.2,680.0 C519.8,683.7 521.6,688.9 522.9,694.2 C524.2,699.5 525.6,706.1 526.1,711.6 C526.6,717.1 526.4,723.2 526.1,727.4 C525.8,731.6 525.6,734.9 524.5,736.9 C523.4,738.9 521.8,738.6 519.7,739.3 C517.6,739.9 513.1,740.5 511.8,740.8"/>
<path d="M514.2,670.5 C515.1,670.0 518.0,669.0 519.7,667.4 C521.4,665.8 522.9,662.8 524.5,661.1 C526.1,659.4 528.4,657.8 529.2,657.1"/>
<path d="M526.1,725.0 C527.1,724.9 530.3,723.5 532.4,724.2 C534.5,724.9 536.3,727.8 538.7,729.0 C541.1,730.2 545.3,731.0 546.6,731.4"/>
<path d="M529.2,657.1 C530.8,656.8 536.3,655.2 538.7,655.5 C541.1,655.8 542.7,658.2 543.5,658.7"/>
<path d="M529.2,657.9 C530.3,659.8 533.5,664.8 535.6,669.0 C537.7,673.2 540.1,678.2 541.9,683.2 C543.7,688.2 545.5,693.7 546.6,699.0 C547.7,704.3 548.2,709.5 548.2,714.8 C548.2,720.0 546.9,727.9 546.6,730.5"/>
<path d="M540.3,657.9 C541.3,660.0 545.0,666.3 546.6,670.5 C548.2,674.7 549.0,678.5 549.8,683.2 C550.6,688.0 551.3,693.7 551.4,699.0 C551.5,704.3 550.9,709.8 550.6,714.8 C550.3,719.8 549.9,726.6 549.8,729.0"/>
<path d="M535.6,653.2 C536.4,651.9 538.5,647.7 540.3,645.3 C542.1,642.9 544.2,640.7 546.6,639.0 C549.0,637.3 551.9,635.8 554.5,635.0 C557.1,634.2 560.0,634.2 562.4,634.2 C564.8,634.2 566.8,634.7 568.7,635.3 C570.6,635.9 573.1,637.2 574.0,637.6"/>
<path d="M546.6,659.5 C547.6,659.8 550.5,660.1 552.9,661.1 C555.3,662.1 558.4,663.4 560.8,665.8 C563.2,668.2 565.9,671.9 567.2,675.3 C568.5,678.7 568.6,682.3 568.7,686.3 C568.8,690.2 568.8,695.6 568.0,699.0 C567.2,702.4 565.2,705.3 564.0,706.9 C562.8,708.5 561.3,708.1 560.8,708.4"/>
<path d="M552.9,670.5 C554.0,671.0 557.4,671.6 559.3,673.7 C561.1,675.8 563.0,680.0 564.0,683.2 C565.0,686.4 565.6,689.8 565.6,692.7 C565.6,695.6 564.3,699.2 564.0,700.5"/>
<path d="M537.1,729.0 C538.2,730.0 540.9,733.2 543.5,735.3 C546.1,737.4 549.8,740.1 552.9,741.6 C556.0,743.1 559.2,744.0 562.4,744.0 C565.6,744.0 570.0,743.1 571.9,741.6 C573.8,740.1 572.6,736.7 574.0,734.8 C575.4,732.9 577.4,731.0 580.3,730.0 C583.2,729.0 589.5,728.8 591.3,728.5"/>
<path d="M572.4,739.5 C574.2,738.7 580.2,736.6 583.4,734.8 C586.5,733.0 590.0,729.5 591.3,728.5"/>
<path d="M569.2,635.3 C569.7,637.1 571.7,641.8 572.4,646.3 C573.1,650.8 573.2,657.6 573.2,662.1 C573.2,666.6 572.4,668.7 572.4,673.2 C572.4,677.7 572.9,683.7 573.2,689.0 C573.5,694.3 573.4,699.5 574.0,704.8 C574.6,710.1 576.1,716.4 577.1,720.6 C578.1,724.8 579.8,728.4 580.3,730.0"/>
<path d="M574.0,637.6 C574.3,639.7 575.7,645.4 576.0,650.0 C576.3,654.6 576.2,660.3 576.0,665.0 C575.8,669.7 575.2,672.7 575.0,678.0 C574.8,683.3 574.7,691.2 575.0,697.0 C575.3,702.8 575.9,707.7 577.0,712.7 C578.1,717.7 580.8,724.5 581.5,726.9"/>
<path d="M574.0,637.6 C574.8,636.4 576.9,632.2 578.7,630.5 C580.5,628.8 582.6,628.2 585.0,627.4 C587.4,626.6 590.5,625.8 592.9,625.8 C595.3,625.8 597.1,626.3 599.2,627.4 C601.3,628.5 603.6,630.3 605.5,632.1 C607.4,633.9 608.7,635.8 610.3,638.4 C611.9,641.0 614.2,646.3 615.0,647.9"/>
<path d="M577.1,636.9 C578.7,636.6 583.7,635.0 586.6,635.3 C589.5,635.5 592.4,636.3 594.5,638.4 C596.6,640.5 598.2,644.7 599.2,647.9 C600.2,651.1 600.9,654.8 600.8,657.4 C600.7,660.0 599.7,662.0 598.4,663.7 C597.1,665.4 594.6,666.7 592.9,667.7 C591.2,668.8 589.0,669.6 588.2,670.0"/>
<path d="M588.2,670.0 C587.9,671.9 586.9,676.6 586.6,681.1 C586.3,685.6 586.1,691.6 586.6,696.9 C587.1,702.2 588.8,707.4 589.8,712.7 C590.8,718.0 592.4,725.9 592.9,728.5"/>
<path d="M591.3,626.6 C592.9,627.8 598.2,630.4 600.8,633.7 C603.4,637.0 605.6,641.0 607.1,646.3 C608.6,651.6 609.2,659.5 609.5,665.3 C609.8,671.1 608.8,675.8 608.7,681.1 C608.6,686.4 608.4,691.6 608.7,696.9 C609.0,702.2 609.2,708.2 610.3,712.7 C611.3,717.2 614.2,721.9 615.0,723.7"/>
<path d="M608.7,635.3 C609.8,637.1 613.4,641.3 615.0,646.3 C616.6,651.3 617.4,659.5 618.2,665.3 C619.0,671.1 619.3,675.8 619.8,681.1 C620.3,686.4 620.6,692.2 621.4,696.9 C622.2,701.6 623.3,706.1 624.5,709.5 C625.7,712.9 627.8,716.1 628.5,717.4"/>
<path d="M628.5,717.4 C626.8,718.2 621.0,720.4 618.2,722.2 C615.4,724.1 613.0,727.5 611.9,728.5"/>
<path d="M611.9,730.0 C610.3,730.5 605.6,732.9 602.4,733.2 C599.2,733.5 594.5,731.9 592.9,731.6"/>
<path d="M622.9,634.5 C625.3,634.2 632.9,632.2 637.1,632.9 C641.3,633.5 645.0,635.6 648.2,638.4 C651.4,641.2 653.7,646.3 656.1,649.5 C658.5,652.7 661.0,654.0 662.4,657.4 C663.8,660.8 664.8,665.5 664.5,670.0 C664.2,674.5 662.7,680.0 660.8,684.2 C658.9,688.4 655.8,692.4 652.9,695.3 C650.0,698.2 646.9,700.5 643.5,701.6 C640.1,702.7 635.6,702.4 632.4,701.6 C629.2,700.8 626.2,698.5 624.5,696.9 C622.8,695.3 622.5,692.9 622.1,692.1"/>
<path d="M656.1,651.1 C657.2,651.9 661.4,653.7 663.0,656.0 C664.6,658.3 665.6,661.8 666.0,665.0 C666.4,668.2 666.2,671.8 665.5,675.0 C664.8,678.2 662.6,682.5 662.0,684.0"/>
<path d="M615.0,641.6 C615.7,641.2 617.7,640.2 619.0,639.0 C620.3,637.8 622.2,635.2 622.9,634.5"/>
<path d="M619.8,652.6 C621.4,652.5 626.6,651.4 629.2,651.9 C631.8,652.4 633.8,653.3 635.6,655.8 C637.5,658.3 639.5,662.9 640.3,666.9 C641.1,670.9 641.1,675.8 640.3,679.5 C639.5,683.2 637.5,686.9 635.6,689.0 C633.8,691.1 631.3,691.3 629.2,692.1 C627.1,692.9 624.0,693.4 622.9,693.7"/>
<path d="M619.8,652.6 C619.9,656.0 620.2,666.6 620.6,673.2 C621.0,679.8 621.9,689.0 622.1,692.1"/>
<path d="M632.4,637.6 C633.5,638.1 636.9,639.1 638.7,640.8 C640.6,642.5 642.7,646.7 643.5,647.9"/>
<path d="M649.8,682.7 C649.5,684.3 649.0,689.6 648.2,692.1 C647.4,694.6 645.5,696.8 645.0,697.7"/>
<ellipse cx="120.2" cy="803.5" rx="6.5" ry="9.9" transform="rotate(8 120.2 803.5)"/>
<ellipse cx="120.8" cy="804.5" rx="3.8" ry="7.4" transform="rotate(8 120.8 804.5)" stroke-width="2.44"/>
<path d="M141.5,791 L148,782 L153,778 L158,776.5 L159,779 L153,782 L147,787 L144,791 Z" fill="#000" stroke-width="0.98"/>
<path d="M155.0,778.2 l7,-1.2 l1.8,2.8 l-7,1.2 z" stroke-width="1.83" fill="#fff"/>
<path d="M158.5,781.4 l7,-1.2 l1.8,2.8 l-7,1.2 z" stroke-width="1.83" fill="#fff"/>
<path d="M161.0,784.7 l7,-1.2 l1.8,2.8 l-7,1.2 z" stroke-width="1.83" fill="#fff"/>
<path d="M163.5,788.0 l7,-1.2 l1.8,2.8 l-7,1.2 z" stroke-width="1.83" fill="#fff"/>
<path d="M165.5,791.2 l7,-1.2 l1.8,2.8 l-7,1.2 z" stroke-width="1.83" fill="#fff"/>
<path d="M616.7,643.0 q3.5,0.5 3,3 q-0.5,2.5 -3,2.5" stroke-width="2.68"/>
<path d="M627.7,641.5 q3.5,0.5 3,3 q-0.5,2.5 -3,2.5" stroke-width="2.68"/>
<path d="M642.0,659.6 q3.5,0.5 3,3 q-0.5,2.5 -3,2.5" stroke-width="2.68"/>
<path d="M643.5,680.2 q3.5,0.5 3,3 q-0.5,2.5 -3,2.5" stroke-width="2.68"/>
<path d="M627.7,692.0 q3.5,0.5 3,3 q-0.5,2.5 -3,2.5" stroke-width="2.68"/>
<path d="M637.2,692.0 q3.5,0.5 3,3 q-0.5,2.5 -3,2.5" stroke-width="2.68"/>
<path d="M118.5,777 L127,774.5 L131,779 L122.5,782.5 Z" stroke-width="1.71"/>
<path d="M121,779 l7,-2" stroke-width="1.22"/>
<ellipse cx="139.2" cy="775.5" rx="5.8" ry="3.6" transform="rotate(-15 139.2 775.5)" stroke-width="1.71"/>
<path d="M134.5,776.5 l9,-2.5" stroke-width="1.22"/>
</g>
<g fill="none" stroke="#000" stroke-width="1.83" stroke-linecap="round" stroke-linejoin="round">
<path d="M154.0,915.9 C155.1,913.9 157.7,907.7 160.8,904.0 C163.9,900.3 168.2,896.4 172.8,893.7 C177.4,891.0 183.1,888.6 188.2,887.7 C193.3,886.9 198.5,887.0 203.6,888.6 C208.7,890.2 214.2,893.1 219.0,897.1 C223.8,901.1 228.3,906.2 232.6,912.5 C236.9,918.8 241.2,926.7 244.6,934.7 C248.0,942.7 251.5,952.4 253.2,960.4 C254.9,968.4 255.5,975.2 254.9,982.6 C254.3,990.0 252.3,998.0 249.7,1004.9 C247.1,1011.8 243.2,1018.9 239.5,1023.7 C235.8,1028.5 232.1,1031.6 227.5,1034.0 C222.9,1036.4 216.9,1037.9 212.1,1038.2 C207.2,1038.5 202.7,1037.3 198.4,1035.7 C194.1,1034.1 189.2,1030.8 186.4,1028.8 C183.6,1026.8 182.2,1024.5 181.3,1023.7"/>
<path d="M157.4,914.2 C159.4,912.2 164.5,905.2 169.3,902.2 C174.1,899.2 181.0,896.9 186.4,896.3 C191.8,895.7 197.0,897.2 201.8,898.8 C206.7,900.4 211.8,902.3 215.5,905.7 C219.2,909.1 222.7,917.0 224.1,919.3"/>
<path d="M164.2,910.8 C167.0,909.9 175.6,906.0 181.3,905.7 C187.0,905.4 193.8,907.7 198.4,909.1 C203.0,910.5 205.0,911.6 208.7,914.2 C212.4,916.8 217.6,920.5 220.7,924.5 C223.8,928.5 226.4,935.9 227.5,938.2"/>
<path d="M232.6,953.6 C233.2,957.0 235.8,966.9 236.1,974.0 C236.4,981.1 236.0,989.2 234.3,996.3 C232.6,1003.4 228.9,1011.9 225.8,1016.8 C222.7,1021.6 217.2,1024.0 215.5,1025.4"/>
<path d="M241.2,999.7 C240.0,1002.6 237.5,1011.8 234.3,1016.8 C231.1,1021.8 224.1,1027.8 222.0,1030.0"/>
<path d="M238.0,930.0 C239.0,933.7 242.7,944.5 244.0,952.0 C245.3,959.5 246.2,967.3 246.0,975.0 C245.8,982.7 243.5,994.2 243.0,998.0"/>
<path d="M226.0,925.0 C227.0,928.3 230.7,938.3 232.0,945.0 C233.3,951.7 233.7,961.7 234.0,965.0" stroke-width="1.46"/>
<path d="M240.0,925.0 C241.2,928.3 245.3,937.8 247.0,945.0 C248.7,952.2 249.7,960.2 250.0,968.0 C250.3,975.8 250.2,984.7 249.0,992.0 C247.8,999.3 244.0,1008.7 243.0,1012.0" stroke-width="1.59"/>
<path d="M178.0,900.0 C180.3,898.8 187.0,894.0 192.0,893.0 C197.0,892.0 203.0,892.5 208.0,894.0 C213.0,895.5 219.7,900.7 222.0,902.0" stroke-width="1.46"/>
<path d="M190.0,1030.0 C192.5,1030.8 199.7,1034.8 205.0,1035.0 C210.3,1035.2 216.8,1033.5 222.0,1031.0 C227.2,1028.5 233.7,1021.8 236.0,1020.0" stroke-width="1.46"/>
<path d="M170.0,908.0 C172.5,907.0 180.0,902.7 185.0,902.0 C190.0,901.3 195.5,902.7 200.0,904.0 C204.5,905.3 210.0,909.0 212.0,910.0" stroke-width="1.46"/>
<path d="M200.0,1030.0 C202.5,1030.3 210.0,1032.8 215.0,1032.0 C220.0,1031.2 227.5,1026.2 230.0,1025.0" stroke-width="1.46"/>
<path d="M196,985 Q200,962 193,944 L207,948 Q214,975 211,1000 Q206,1016 194,1022 L186,1020 Q196,1006 196,985 Z" fill="#000" stroke="none" opacity="0.75"/>
<path d="M174.5,917.6 C176.4,919.3 182.6,922.6 186.0,928.0 C189.4,933.4 192.8,942.2 195.0,950.0 C197.2,957.8 198.7,967.0 199.0,975.0 C199.3,983.0 198.5,991.5 197.0,998.0 C195.5,1004.5 192.7,1010.2 190.0,1014.0 C187.3,1017.8 182.5,1019.8 181.0,1021.0" stroke-width="1.59" stroke-dasharray=""/>
<path d="M177.1,918.0 C179.0,919.7 185.2,922.8 188.6,928.1 C192.0,933.5 195.3,942.2 197.4,950.0 C199.5,957.8 201.0,967.0 201.3,975.0 C201.6,983.0 200.7,991.5 199.1,998.0 C197.6,1004.5 194.7,1010.0 192.0,1013.7 C189.3,1017.5 184.5,1019.3 183.0,1020.4" stroke-width="1.59" stroke-dasharray="2,1"/>
<path d="M179.6,918.5 C181.6,920.1 187.8,923.0 191.1,928.3 C194.5,933.5 197.8,942.2 199.9,950.0 C201.9,957.8 203.3,967.0 203.6,975.0 C203.8,983.0 202.9,991.6 201.3,998.0 C199.7,1004.4 196.7,1009.8 194.0,1013.4 C191.3,1017.1 186.5,1018.8 185.0,1019.9" stroke-width="1.59" stroke-dasharray=""/>
<path d="M182.2,918.9 C184.1,920.5 190.4,923.2 193.7,928.4 C197.1,933.6 200.3,942.2 202.3,950.0 C204.3,957.8 205.7,967.0 205.9,975.0 C206.0,983.0 205.1,991.6 203.4,998.0 C201.8,1004.4 198.7,1009.6 196.0,1013.1 C193.3,1016.7 188.5,1018.3 187.0,1019.3" stroke-width="1.59" stroke-dasharray="2,1"/>
<path d="M184.8,919.3 C186.7,920.9 193.0,923.5 196.3,928.6 C199.6,933.7 202.7,942.3 204.7,950.0 C206.7,957.7 208.0,967.0 208.1,975.0 C208.3,983.0 207.3,991.7 205.6,998.0 C203.9,1004.3 200.8,1009.4 198.0,1012.9 C195.2,1016.3 190.5,1017.7 189.0,1018.7" stroke-width="1.59" stroke-dasharray=""/>
<path d="M187.4,919.7 C189.3,921.2 195.6,923.7 198.9,928.7 C202.2,933.8 205.2,942.3 207.1,950.0 C209.1,957.7 210.3,967.0 210.4,975.0 C210.5,983.0 209.5,991.7 207.7,998.0 C206.0,1004.3 202.8,1009.2 200.0,1012.6 C197.2,1015.9 192.5,1017.2 191.0,1018.1" stroke-width="1.59" stroke-dasharray="2,1"/>
<path d="M189.9,920.2 C191.8,921.6 198.2,923.9 201.4,928.9 C204.7,933.8 207.7,942.3 209.6,950.0 C211.5,957.7 212.7,967.0 212.7,975.0 C212.8,983.0 211.6,991.8 209.9,998.0 C208.1,1004.2 204.8,1009.0 202.0,1012.3 C199.2,1015.5 194.5,1016.7 193.0,1017.6" stroke-width="1.59" stroke-dasharray=""/>
<path d="M192.5,920.6 C194.4,922.0 200.8,924.1 204.0,929.0 C207.2,933.9 210.2,942.3 212.0,950.0 C213.8,957.7 215.0,967.0 215.0,975.0 C215.0,983.0 213.8,991.8 212.0,998.0 C210.2,1004.2 206.8,1008.8 204.0,1012.0 C201.2,1015.2 196.5,1016.2 195.0,1017.0" stroke-width="1.59" stroke-dasharray="2,1"/>
</g>
<g fill="none" stroke="#000" stroke-width="1.83" stroke-linecap="round">
<path d="M136.8,951.8 C137.4,943.5 139.4,936.7 142.0,931.3 C144.6,925.9 148.5,921.7 152.2,919.3 C155.9,916.9 160.2,916.5 164.2,916.8 C168.2,917.1 172.5,918.3 176.2,921.0 C179.9,923.7 183.3,927.6 186.4,933.0 C189.5,938.4 193.0,946.5 195.0,953.6 C197.0,960.7 198.1,968.7 198.4,975.8 C198.7,982.9 198.1,990.0 196.7,996.3 C195.3,1002.6 192.8,1009.0 189.9,1013.4 C187.1,1017.8 183.3,1021.2 179.6,1022.8 C175.9,1024.4 171.6,1024.1 167.6,1022.8 C163.6,1021.5 159.4,1019.0 155.7,1015.1 C152.0,1011.2 148.2,1005.4 145.4,999.7 C142.6,994.0 140.0,988.9 138.6,980.9 C137.2,972.9 136.2,960.1 136.8,951.8 Z" fill="#fff"/>
<ellipse cx="167.8" cy="970" rx="29.8" ry="51.5" transform="rotate(-12 167.8 970)" stroke-width="1.34"/>
<ellipse cx="168" cy="970" rx="27" ry="48" transform="rotate(-12 168 970)"/>
<ellipse cx="168.8" cy="970" rx="23.5" ry="43.5" transform="rotate(-12 168.8 970)" stroke-width="1.34"/>
<path d="M152.0,955.0 C152.5,952.2 153.2,942.2 155.0,938.0 C156.8,933.8 160.2,931.2 163.0,930.0 C165.8,928.8 170.5,930.8 172.0,931.0" stroke-width="1.46"/>
<path d="M150.0,970.0 C150.3,966.3 150.3,953.7 152.0,948.0 C153.7,942.3 158.7,938.0 160.0,936.0" stroke-width="1.46"/>
<path d="M158.0,1000.0 C159.3,1001.7 162.8,1008.3 166.0,1010.0 C169.2,1011.7 173.8,1011.3 177.0,1010.0 C180.2,1008.7 183.7,1003.3 185.0,1002.0" stroke-width="1.46"/>
<path d="M153.0,992.0 C154.2,994.0 157.2,1001.3 160.0,1004.0 C162.8,1006.7 168.3,1007.3 170.0,1008.0" stroke-width="1.46"/>
<path d="M188.0,940.0 C188.8,942.8 192.2,950.3 193.0,957.0 C193.8,963.7 193.8,972.8 193.0,980.0 C192.2,987.2 188.8,996.7 188.0,1000.0" stroke-width="1.46"/>
<ellipse cx="172" cy="969" rx="19.5" ry="38.5" transform="rotate(-12 172 969)" stroke-width="1.59"/>
<path d="M163.0,945.0 C163.7,943.7 165.2,938.8 167.0,937.0 C168.8,935.2 171.7,934.0 174.0,934.0 C176.3,934.0 179.8,936.5 181.0,937.0" stroke-width="1.46"/>
<path d="M161.0,985.0 C161.7,986.8 163.0,993.3 165.0,996.0 C167.0,998.7 170.3,1000.5 173.0,1001.0 C175.7,1001.5 179.7,999.3 181.0,999.0" stroke-width="1.46"/>
<ellipse cx="178" cy="966.3" rx="8.5" ry="14.5" transform="rotate(-12 178 966.3)"/>
<path d="M176,957 Q183,958 184,967 Q184,976 178,977" stroke-width="1.83"/>
<path d="M186,985 l2,8 l3,-6" stroke-width="2.44"/>
</g>
<g fill="none" stroke="#000" stroke-width="1.95" stroke-linecap="round">
<path d="M116.6,980.8 L131.6,979.2 M118.1,988.7 L131.6,985.5"/>
<ellipse cx="131.3" cy="982.4" rx="1.8" ry="3.3"/>
<path d="M119,981 l1.8,7 M122.5,980.6 l1.8,7 M126,980.2 l1.8,6.5 M129,979.8 l1.5,6" stroke-width="1.59"/>
<ellipse cx="104.8" cy="987" rx="12.6" ry="14.2" fill="#fff" stroke-width="2.07"/>
<path d="M98,981 l5,-3 M99,996 l5,-2 M103,988 l5,-1" stroke-width="1.95"/>
<path d="M112,977 Q117,982 117,990 Q116,998 110,1000" stroke-width="2.68"/>
</g>
<g fill="none" stroke="#000" stroke-width="1.83" stroke-linecap="round">
<ellipse cx="272.3" cy="940.5" rx="18.7" ry="24.5" transform="rotate(-10 272.3 940.5)"/>
<path d="M280,918.5 Q293,928 291.5,946 Q290,960 281,964" stroke-width="1.83"/>
<rect x="266.5" y="958.3" width="2.2" height="2.2" fill="#000" stroke="none"/>
<rect x="262.8" y="955.5" width="2.2" height="2.2" fill="#000" stroke="none"/>
<rect x="259.8" y="951.3" width="2.2" height="2.2" fill="#000" stroke="none"/>
<rect x="257.8" y="946.0" width="2.2" height="2.2" fill="#000" stroke="none"/>
<rect x="257.0" y="940.2" width="2.2" height="2.2" fill="#000" stroke="none"/>
<rect x="257.5" y="934.3" width="2.2" height="2.2" fill="#000" stroke="none"/>
<rect x="259.2" y="928.9" width="2.2" height="2.2" fill="#000" stroke="none"/>
<rect x="262.0" y="924.4" width="2.2" height="2.2" fill="#000" stroke="none"/>
<rect x="265.6" y="921.2" width="2.2" height="2.2" fill="#000" stroke="none"/>
<path d="M268,934 L272,933.5 L274.5,930.5 L277,933 L281.5,936 L281,941 L283,944 L281,948 L280.5,953 L276,954 L273.5,957 L271,954 L267,951 L267.5,946 L265.5,942 L267.5,939 Z" stroke-width="1.95"/>
</g>
<g fill="none" stroke="#000" stroke-width="1.83" stroke-linecap="round" stroke-linejoin="round">
<path d="M322.6,904.9 C324.0,905.9 328.5,908.5 331.0,911.0 C333.5,913.5 336.1,916.5 337.5,920.0 C338.9,923.5 339.7,927.8 339.7,931.8 C339.7,935.8 338.8,940.6 337.5,944.0 C336.2,947.4 333.8,950.1 332.0,952.0 C330.2,953.9 327.5,954.9 326.6,955.5" stroke-width="2.68"/>
<path d="M322.0,908.0 C323.2,909.0 327.0,911.5 329.0,914.0 C331.0,916.5 332.9,919.7 334.0,923.0 C335.1,926.3 335.7,930.3 335.5,934.0 C335.3,937.7 334.4,942.0 333.0,945.0 C331.6,948.0 328.0,950.8 327.0,952.0" stroke-width="1.46"/>
<path d="M295.0,916.7 C297.0,916.2 304.2,914.9 306.8,913.4 C309.4,911.9 308.8,908.8 310.8,907.5 C312.8,906.2 316.5,905.9 318.7,905.5 C320.9,905.1 323.1,905.0 324.0,904.9"/>
<path d="M302.9,954.2 C305.1,954.0 312.5,952.8 316.0,952.9 C319.5,953.0 322.7,954.6 324.0,954.9"/>
<ellipse cx="301.5" cy="934" rx="10" ry="19.5" transform="rotate(-5 301.5 934)"/>
<ellipse cx="304.2" cy="933.5" rx="6.3" ry="10.6" transform="rotate(-8 304.2 933.5)" stroke-width="2.07"/>
<path d="M300.5,923.5 l1,-2.5 l2.5,0.5 l0,2.5" stroke-width="1.59"/>
<path d="M309,915 L327,912 M310,919 L329,916 M311,923.5 L330,920 M312,928 L330.5,924.5 M315,915 v10 M321,914 v9" stroke-width="1.46"/>
<path d="M316,943.7 L314.7,951.6" stroke-width="1.59"/>
</g>
<g fill="none" stroke="#000" stroke-width="2.68" stroke-linecap="round" stroke-linejoin="round">
<ellipse cx="448" cy="900.2" rx="20.8" ry="31.2" transform="rotate(-10 448 900.2)"/>
<ellipse cx="446.2" cy="899.5" rx="14" ry="22.3" transform="rotate(-10 446.2 899.5)" stroke-width="3.05"/>
<path d="M443.5,870 L444.5,863 L449,862 L454,868" stroke-width="2.44"/>
<path d="M432,884 L442,876" stroke-width="1.46"/>
<path d="M444,921 Q452,924 459,914" stroke-width="1.59"/>
<ellipse cx="407.3" cy="910.3" rx="20.6" ry="30.2" transform="rotate(-10 407.3 910.3)" fill="#fff"/>
<path d="M417,882 Q431,893 431,912 Q430,933 420,940" stroke-width="1.95"/>
<ellipse cx="405.7" cy="909.4" rx="13.8" ry="22.3" transform="rotate(-10 405.7 909.4)" stroke-width="2.93"/>
<path d="M404.5,881 L405,874 L409,873 L414,879" stroke-width="2.44"/>
<path d="M397,881 v7 M390,893 l4,2 M386,912 l6,0 M395,931 l3,-4 M410,933 v8 M414,932 v8 M420,926 l5,3" stroke-width="1.71"/>
</g>
<g>
<text x="357.8" y="70.0" textLength="63.6" lengthAdjust="spacingAndGlyphs" class="L" font-size="22.1">13011</text>
<text x="175.8" y="210.3" textLength="63.6" lengthAdjust="spacingAndGlyphs" class="L" font-size="20.4">13101</text>
<text x="518.8" y="215.0" textLength="62.6" lengthAdjust="spacingAndGlyphs" class="L" font-size="21.0">13202</text>
<text x="449.8" y="271.0" textLength="63.6" lengthAdjust="spacingAndGlyphs" class="L" font-size="21.5">13041</text>
<text x="255.8" y="313.0" textLength="76.6" lengthAdjust="spacingAndGlyphs" class="L" font-size="21.0">13101A</text>
<text x="74.8" y="351.0" textLength="77.6" lengthAdjust="spacingAndGlyphs" class="L" font-size="20.7">13101A</text>
<text x="68.8" y="428.1" textLength="76.6" lengthAdjust="spacingAndGlyphs" class="L" font-size="21.9">13201A</text>
<text x="508.8" y="417.1" textLength="62.6" lengthAdjust="spacingAndGlyphs" class="L" font-size="20.6">11702</text>
<text x="390.8" y="451.8" textLength="62.6" lengthAdjust="spacingAndGlyphs" class="L" font-size="21.9">11711</text>
<text x="450.8" y="459.7" textLength="62.6" lengthAdjust="spacingAndGlyphs" class="L" font-size="20.6">11711</text>
<text x="512.8" y="445.5" textLength="63.6" lengthAdjust="spacingAndGlyphs" class="L" font-size="20.6">11711</text>
<text x="357.8" y="488.2" textLength="62.6" lengthAdjust="spacingAndGlyphs" class="L" font-size="20.6">11711</text>
<text x="539.8" y="549.2" textLength="60.6" lengthAdjust="spacingAndGlyphs" class="L" font-size="21.0">11711</text>
<text x="597.8" y="534.7" textLength="58.6" lengthAdjust="spacingAndGlyphs" class="L" font-size="19.9">11711</text>
<text x="659.8" y="519.5" textLength="61.6" lengthAdjust="spacingAndGlyphs" class="L" font-size="20.9">11711</text>
<text x="248.8" y="595.6" textLength="63.6" lengthAdjust="spacingAndGlyphs" class="L" font-size="20.0">13201</text>
<text x="102.8" y="649.5" textLength="63.6" lengthAdjust="spacingAndGlyphs" class="L" font-size="20.6">13265</text>
<text x="108.8" y="699.0" textLength="62.6" lengthAdjust="spacingAndGlyphs" class="L" font-size="20.7">13411</text>
<text x="105.5" y="724.3" textLength="76.7" lengthAdjust="spacingAndGlyphs" class="L" font-size="20.3">13521A</text>
<text x="60.8" y="750.6" textLength="77.6" lengthAdjust="spacingAndGlyphs" class="L" font-size="19.9">13471A</text>
<text x="294.8" y="842.8" textLength="76.6" lengthAdjust="spacingAndGlyphs" class="L" font-size="20.3">13521P</text>
<text x="238.8" y="887.6" textLength="77.6" lengthAdjust="spacingAndGlyphs" class="L" font-size="20.0">13566A</text>
<text x="398.8" y="976.6" textLength="63.6" lengthAdjust="spacingAndGlyphs" class="L" font-size="19.7">11011</text>
<text x="65.8" y="1033.0" textLength="76.6" lengthAdjust="spacingAndGlyphs" class="L" font-size="20.0">13471C</text>
<text x="145.8" y="1057.9" textLength="62.6" lengthAdjust="spacingAndGlyphs" class="L" font-size="20.9">13407</text>
<text x="392" y="470.5" textLength="55" lengthAdjust="spacingAndGlyphs" class="N">(NO. 2)</text>
<text x="454" y="478.5" textLength="55" lengthAdjust="spacingAndGlyphs" class="N">(NO. 2)</text>
<text x="516" y="466.5" textLength="56" lengthAdjust="spacingAndGlyphs" class="N">(NO. 2)</text>
<text x="360" y="506.5" textLength="56" lengthAdjust="spacingAndGlyphs" class="N">(NO. 1)</text>
<text x="543" y="568.5" textLength="55" lengthAdjust="spacingAndGlyphs" class="N">(NO. 2)</text>
<text x="603" y="555.5" textLength="56" lengthAdjust="spacingAndGlyphs" class="N">(NO. 2)</text>
<text x="659" y="539.5" textLength="55" lengthAdjust="spacingAndGlyphs" class="N">(NO. 2)</text>
<text x="700" y="1108" textLength="57" lengthAdjust="spacingAndGlyphs" class="C">130170C</text>
</g>
</svg>
</body></html>
